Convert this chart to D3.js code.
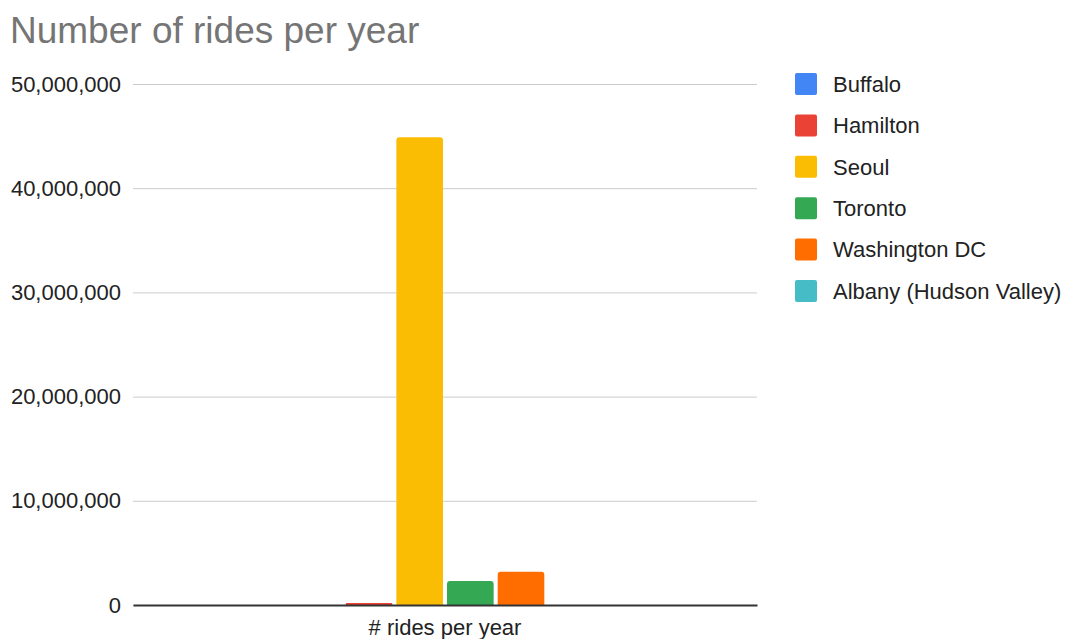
<!DOCTYPE html>
<html>
  <head>
    <style>
     body{
         margin: 0;
         background-color: #fff;
         font-family: "Liberation Sans", Arial, sans-serif;
     }
    </style>
    <script src="https://d3js.org/d3.v7.min.js"></script>
    <title>Number of rides per year</title>
  </head>
  <body>
    <script>
    // data
    const categories = ["# rides per year"];
    const cities = ["Buffalo", "Hamilton", "Seoul", "Toronto", "Washington DC", "Albany (Hudson Valley)"];
    const rides = [0, 200000, 44900000, 2300000, 3200000, 0];
    const colors = ["#4285f4", "#ea4335", "#fbbc04", "#34a853", "#ff6d01", "#46bdc6"];
    const yTicks = [0, 10000000, 20000000, 30000000, 40000000, 50000000];

    const w = 1068;
    const h = 639;
    const plotLeft = 133, plotRight = 757, plotTop = 84, plotBottom = 605;

    const svg = d3.select("body")
                  .append("svg")
                  .attr("width", w)
                  .attr("height", h);

    svg.append("text")
       .attr("x", 10)
       .attr("y", 43)
       .attr("font-size", 37)
       .attr("fill", "#757575")
       .text("Number of rides per year");

    const yScale = d3.scaleLinear()
                     .domain([0, 50000000])
                     .range([plotBottom, plotTop]);

    const xScale = d3.scaleBand()
                     .domain(categories)
                     .range([plotLeft, plotRight])
                     .paddingInner(0)
                     .paddingOuter(0.54);

    const inner = d3.scaleBand()
                    .domain(cities)
                    .range([0, xScale.bandwidth()])
                    .paddingInner(0.08);

    // gridlines + labels
    const yAxis = d3.axisLeft(yScale)
                    .tickValues(yTicks)
                    .tickSize(-(plotRight - plotLeft))
                    .tickPadding(12)
                    .tickFormat(d3.format(","));
    const gy = svg.append("g")
       .attr("transform", "translate(" + plotLeft + ",0)")
       .call(yAxis);
    gy.select(".domain").remove();
    gy.selectAll(".tick line").attr("stroke", "#cccccc");
    gy.selectAll(".tick text")
      .attr("font-size", 22)
      .attr("font-family", "Liberation Sans, Arial, sans-serif")
      .attr("fill", "#222");

    // bars with rounded tops
    function barPath(x, y, bw, bh) {
      const r = Math.min(3, bh / 2, bw / 2);
      return "M" + x + "," + (y + bh) +
             "V" + (y + r) +
             "Q" + x + "," + y + " " + (x + r) + "," + y +
             "H" + (x + bw - r) +
             "Q" + (x + bw) + "," + y + " " + (x + bw) + "," + (y + r) +
             "V" + (y + bh) + "Z";
    }

    svg.selectAll(".bar")
       .data(cities)
       .enter()
       .append("path")
       .attr("class", "bar")
       .attr("fill", (d, i) => colors[i])
       .attr("d", (d, i) => {
         const x = xScale(categories[0]) + inner(d);
         const y = yScale(rides[i]);
         return barPath(x, y, inner.bandwidth(), yScale(0) - y);
       });

    // baseline + category label
    const xAxis = d3.axisBottom(xScale).tickSize(0).tickPadding(14);
    const gx = svg.append("g")
       .attr("transform", "translate(0," + plotBottom + ")")
       .call(xAxis);
    gx.select(".domain").attr("stroke", "#333").attr("stroke-width", 2);
    gx.selectAll(".tick text")
      .attr("font-size", 22)
      .attr("font-family", "Liberation Sans, Arial, sans-serif")
      .attr("fill", "#222");

    // legend
    const legend = svg.append("g")
       .selectAll("g")
       .data(cities)
       .enter()
       .append("g")
       .attr("transform", (d, i) => "translate(795," + (84 + i * 41.4) + ")");
    legend.append("rect")
       .attr("x", 0)
       .attr("y", -11)
       .attr("width", 22)
       .attr("height", 22)
       .attr("rx", 2)
       .attr("fill", (d, i) => colors[i]);
    legend.append("text")
       .attr("x", 38)
       .attr("dy", "0.35em")
       .attr("font-size", 22)
       .attr("fill", "#222")
       .text(d => d);
    </script>
  </body>
</html>
